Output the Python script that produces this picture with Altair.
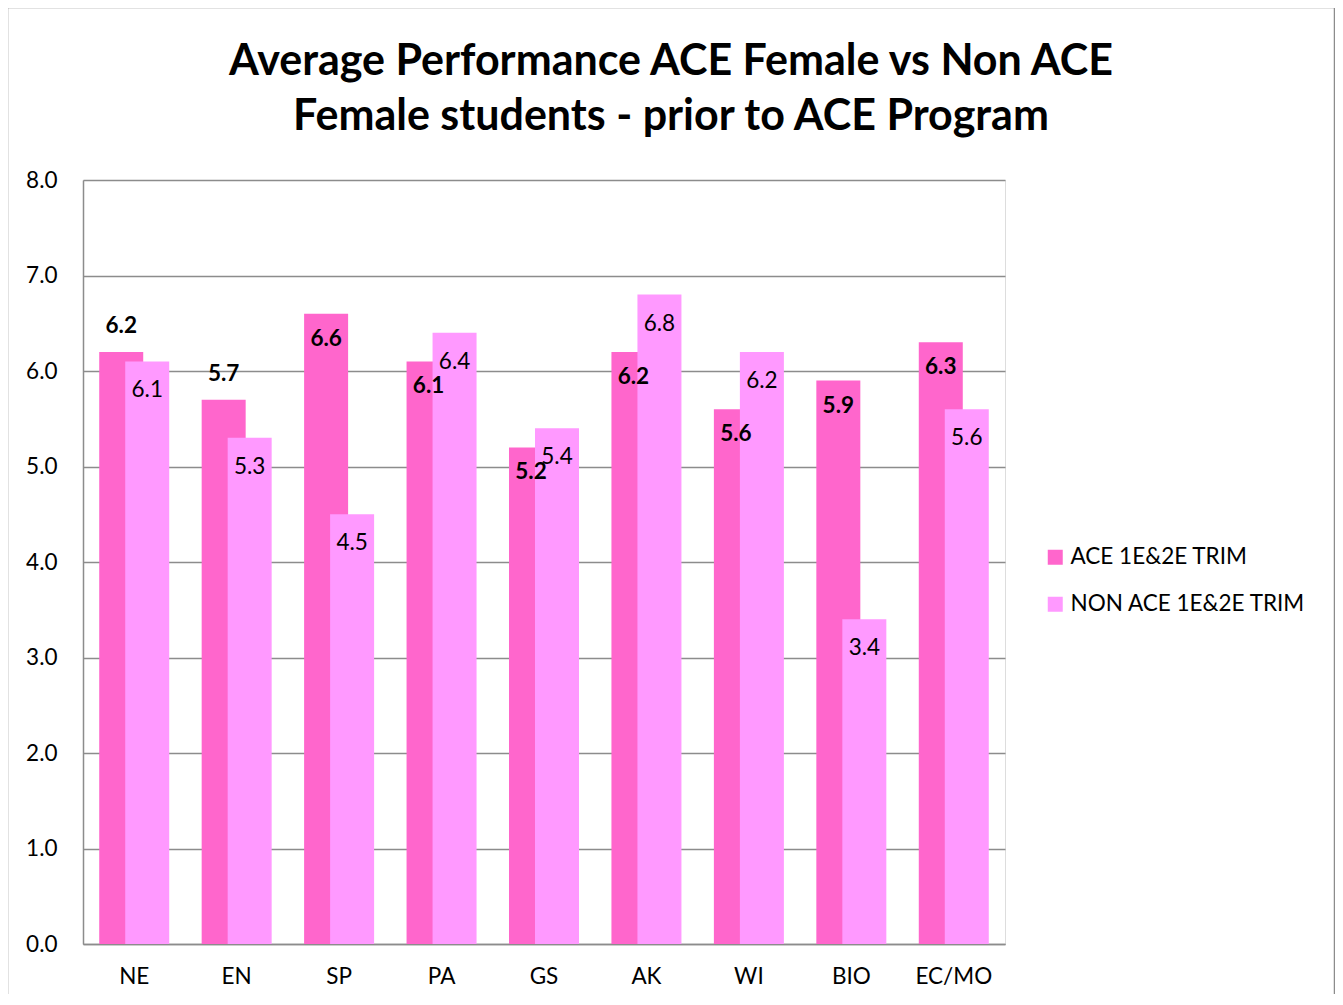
import altair as alt
import pandas as pd

categories = ["NE", "EN", "SP", "PA", "GS", "AK", "WI", "BIO", "EC/MO"]
ace_values = [6.2, 5.7, 6.6, 6.1, 5.2, 6.2, 5.6, 5.9, 6.3]
non_ace_values = [6.1, 5.3, 4.5, 6.4, 5.4, 6.8, 6.2, 3.4, 5.6]
series_names = ["ACE 1E&2E TRIM", "NON ACE 1E&2E TRIM"]
series_colors = ["#FF66CC", "#FF99FF"]
ace_labels_above = ["NE", "EN"]
y_ticks = [0, 1, 2, 3, 4, 5, 6, 7, 8]
title_lines = ["Average Performance ACE Female vs Non ACE",
               "Female students - prior to ACE Program"]

rows = []
for c, a, n in zip(categories, ace_values, non_ace_values):
    rows.append({"cat": c, "series": series_names[0], "value": a,
                 "above": c in ace_labels_above})
    rows.append({"cat": c, "series": series_names[1], "value": n,
                 "above": False})
df = pd.DataFrame(rows)

FONT = "Lato"
FS = 22.5
TFS = 43
W, H = 922, 764

x = alt.X("cat:N", sort=categories, title=None,
          scale=alt.Scale(paddingInner=0, paddingOuter=0),
          axis=alt.Axis(labelAngle=0, labelFontSize=FS, labelFont=FONT,
                        labelColor="#000", labelPadding=21, ticks=False,
                        domainColor="#8c8c8c", domainWidth=1.5))
y = alt.Y("value:Q", title=None,
          scale=alt.Scale(domain=[0, 8], nice=False),
          axis=alt.Axis(values=y_ticks, format=".1f", labelFontSize=FS,
                        labelFont=FONT, labelColor="#000", labelPadding=26,
                        ticks=False, grid=True, gridColor="#8c8c8c",
                        gridWidth=1.5, domainColor="#8c8c8c", domainWidth=1.5))
color = alt.Color("series:N", title=None,
                  scale=alt.Scale(domain=series_names, range=series_colors),
                  legend=alt.Legend(orient="none", legendX=961, legendY=366,
                                    symbolType="square", symbolSize=225,
                                    symbolStrokeWidth=0, labelFontSize=FS,
                                    labelFont=FONT, labelColor="#000",
                                    labelLimit=400,
                                    rowPadding=24, labelOffset=4))

base = alt.Chart(df)
ace = base.transform_filter(alt.datum.series == series_names[0])
non = base.transform_filter(alt.datum.series == series_names[1])

ace_bar = ace.mark_bar(width=44, xOffset=-13).encode(x=x, y=y, color=color)
non_bar = non.mark_bar(width=44, xOffset=13).encode(x=x, y=y, color=color)

ace_in = ace.transform_filter("!datum.above").mark_text(
    xOffset=-13, dy=25, fontSize=FS, fontWeight="bold", font=FONT,
    color="#000").encode(x=x, y=y, text=alt.Text("value:Q", format=".1f"))
ace_out = ace.transform_filter("datum.above").mark_text(
    xOffset=-13, dy=-26, fontSize=FS, fontWeight="bold", font=FONT,
    color="#000").encode(x=x, y=y, text=alt.Text("value:Q", format=".1f"))
non_txt = non.mark_text(
    xOffset=13, dy=29, fontSize=FS, font=FONT,
    color="#000").encode(x=x, y=y, text=alt.Text("value:Q", format=".1f"))

frame = alt.Chart(pd.DataFrame({"k": [0]})).mark_rect(
    fill=None, stroke="#8c8c8c", strokeWidth=1.5).encode(
    x=alt.value(-75.5), x2=alt.value(1251.5),
    y=alt.value(-172.5), y2=alt.value(900))

title_df = pd.DataFrame({"line": title_lines})
title1 = alt.Chart(title_df).transform_filter(
    alt.datum.line == title_lines[0]).mark_text(
    font=FONT, fontSize=TFS, fontWeight="bold", color="#000",
    align="center", baseline="alphabetic").encode(
    x=alt.value(588), y=alt.value(-105), text="line:N")
title2 = alt.Chart(title_df).transform_filter(
    alt.datum.line == title_lines[1]).mark_text(
    font=FONT, fontSize=TFS, fontWeight="bold", color="#000",
    align="center", baseline="alphabetic").encode(
    x=alt.value(588), y=alt.value(-50), text="line:N")

chart = alt.layer(frame, title1, title2, ace_bar, non_bar, ace_in, ace_out,
                  non_txt).properties(
    width=W, height=H,
    padding={"left": 75, "top": 172, "right": 330, "bottom": 50},
    autosize=alt.AutoSizeParams(type="none"),
).configure_view(stroke=None).configure(background="white")

chart.save("out.html", embed_options={"renderer": "svg", "actions": False})
